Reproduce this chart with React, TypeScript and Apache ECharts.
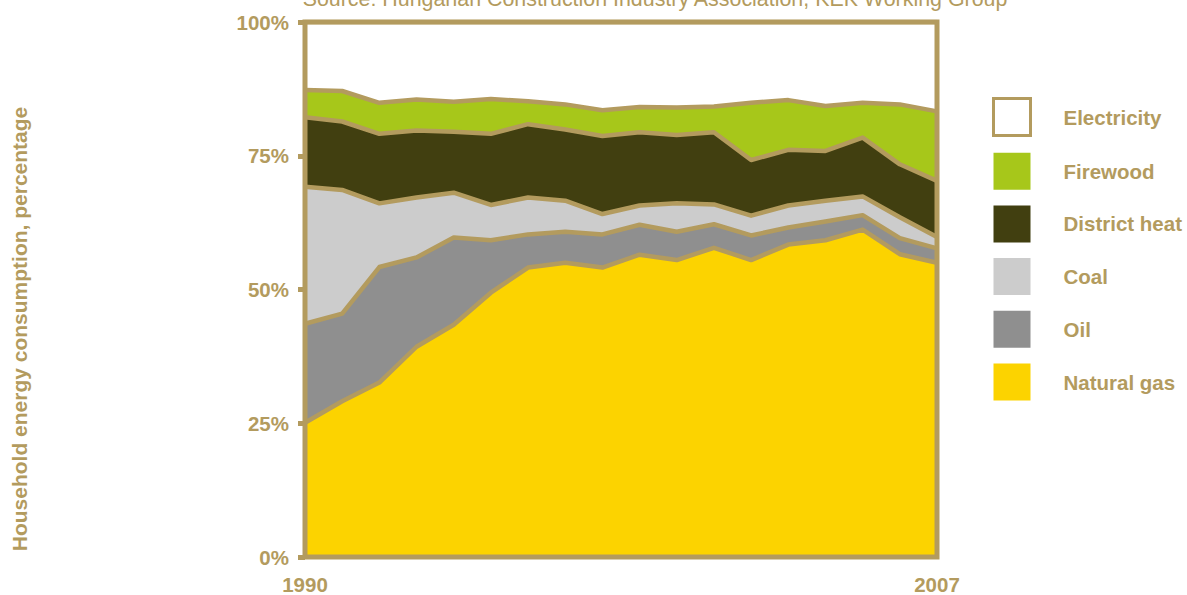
import React, { useEffect, useRef } from "react";
import * as echarts from "echarts";

// Years on the horizontal axis
const years = [
  "1990", "1991", "1992", "1993", "1994", "1995", "1996", "1997", "1998",
  "1999", "2000", "2001", "2002", "2003", "2004", "2005", "2006", "2007",
];

// Share of household energy consumption by source, percent (stacked bottom to top)
const naturalGas = [25.1, 29.1, 32.6, 39.3, 43.4, 49.4, 54.1, 55.0, 54.1, 56.5, 55.5, 57.8, 55.5, 58.4, 59.2, 61.2, 56.6, 55.0];
const oil = [18.5, 16.4, 21.6, 16.7, 16.3, 9.8, 6.2, 5.8, 6.2, 5.6, 5.3, 4.4, 4.6, 3.2, 3.5, 2.7, 3.0, 2.7];
const coal = [25.6, 23.1, 11.9, 11.2, 8.4, 6.6, 6.9, 5.8, 3.8, 3.6, 5.3, 3.7, 3.7, 4.1, 3.9, 3.5, 3.9, 2.1];
const districtHeat = [13.0, 12.8, 13.0, 12.5, 11.4, 13.3, 13.7, 13.3, 14.6, 13.7, 12.8, 13.5, 10.4, 10.4, 9.3, 11.0, 9.9, 10.5];
const firewood = [5.1, 5.7, 5.8, 5.8, 5.6, 6.5, 4.3, 4.7, 4.8, 4.7, 5.1, 4.8, 10.7, 9.3, 8.4, 6.5, 11.2, 13.0];
const electricity = [12.7, 12.9, 15.1, 14.5, 14.9, 14.4, 14.8, 15.4, 16.5, 15.9, 16.0, 15.8, 15.1, 14.6, 15.7, 15.1, 15.4, 16.7];

const yTicks = [0, 25, 50, 75, 100];

const TAN = "#B39B5E";
const FONT = "'Liberation Sans', Arial, Helvetica, sans-serif";

const sources = [
  { name: "Natural gas", data: naturalGas, color: "#FCD300" },
  { name: "Oil", data: oil, color: "#8F8F8F" },
  { name: "Coal", data: coal, color: "#CCCCCC" },
  { name: "District heat", data: districtHeat, color: "#413F10" },
  { name: "Firewood", data: firewood, color: "#A7C71A" },
  { name: "Electricity", data: electricity, color: "#FFFFFF" },
];

export default function App() {
  const ref = useRef<HTMLDivElement>(null);

  useEffect(() => {
    if (!ref.current) return;
    const chart = echarts.init(ref.current, undefined, { renderer: "svg" });

    // Filled bands, stacked
    const areaSeries = sources.map((s) => ({
      name: s.name,
      type: "line",
      stack: "share",
      data: s.data,
      symbol: "none",
      z: 2,
      lineStyle: { width: 0 },
      itemStyle: { color: s.color },
      areaStyle: { color: s.color, opacity: 1 },
    }));

    // Tan boundary lines drawn over all bands
    const boundarySeries = sources.map((s) => ({
      name: s.name,
      type: "line",
      stack: "boundaries",
      data: s.data,
      symbol: "none",
      z: 3,
      lineStyle: { color: TAN, width: 4.5, join: "round" },
      itemStyle: { color: s.color },
    }));

    const legendOrder = ["Electricity", "Firewood", "District heat", "Coal", "Oil", "Natural gas"];

    chart.setOption({
      animation: false,
      backgroundColor: "#FFFFFF",
      textStyle: { fontFamily: FONT },
      grid: {
        left: 305,
        right: 250,
        top: 22,
        bottom: 33,
        show: true,
        z: 10,
        backgroundColor: "transparent",
        borderColor: TAN,
        borderWidth: 5,
      },
      legend: {
        orient: "vertical",
        left: 992,
        top: 97,
        padding: 0,
        icon: "rect",
        itemWidth: 37,
        itemHeight: 37,
        itemGap: 15.7,
        selectedMode: false,
        textStyle: {
          color: TAN,
          fontWeight: "bold",
          fontSize: 20.5,
          fontFamily: FONT,
          padding: [0, 0, 0, 28],
        },
        data: legendOrder.map((n) => {
          const s = sources.find((x) => x.name === n)!;
          return n === "Electricity"
            ? { name: n, itemStyle: { color: "#FFFFFF", borderColor: TAN, borderWidth: 3 } }
            : { name: n, itemStyle: { color: s.color, borderWidth: 0 } };
        }),
      },
      xAxis: {
        type: "category",
        data: years,
        boundaryGap: false,
        axisLine: { show: false },
        axisTick: { show: false },
        splitLine: { show: false },
        axisLabel: {
          interval: (i: number) => i === 0 || i === years.length - 1,
          color: TAN,
          fontWeight: "bold",
          fontSize: 20.5,
          fontFamily: FONT,
          margin: 17,
        },
      },
      yAxis: {
        type: "value",
        min: 0,
        max: 100,
        interval: 25,
        axisLine: { show: false },
        splitLine: { show: false },
        axisTick: { show: true, length: 7, lineStyle: { color: TAN, width: 5 } },
        axisLabel: {
          color: TAN,
          fontWeight: "bold",
          fontSize: 20.5,
          fontFamily: FONT,
          margin: 16,
          formatter: (v: number) => (yTicks.includes(v) ? `${v}%` : ""),
        },
      },
      graphic: [
        {
          type: "text",
          x: 655,
          y: -1,
          style: {
            text: "Source: Hungarian Construction Industry Association, KEK Working Group",
            fill: TAN,
            font: `21.4px ${FONT}`,
            align: "center",
            verticalAlign: "middle",
          },
        },
        {
          type: "text",
          x: 19,
          y: 329,
          rotation: Math.PI / 2,
          style: {
            text: "Household energy consumption, percentage",
            fill: TAN,
            font: `bold 21px ${FONT}`,
            align: "center",
            verticalAlign: "middle",
          },
        },
      ],
      series: [...areaSeries, ...boundarySeries],
    });

    return () => chart.dispose();
  }, []);

  return (
    <div
      ref={ref}
      style={{ position: "fixed", left: 0, top: 0, width: 1187, height: 595 }}
    />
  );
}
